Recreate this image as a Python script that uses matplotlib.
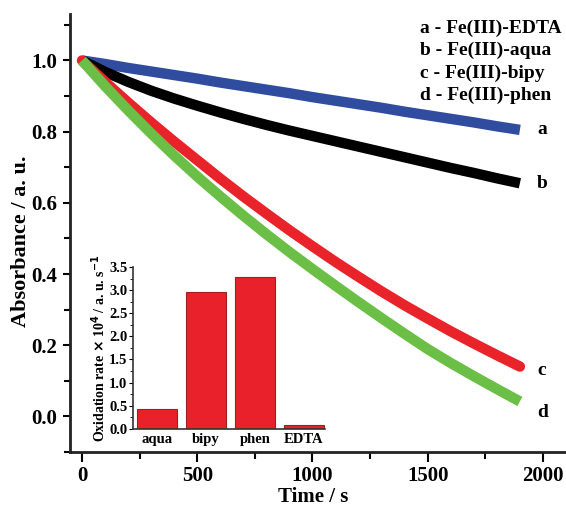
import numpy as np
import matplotlib.pyplot as plt
from matplotlib.ticker import MultipleLocator

plt.rcParams['font.family'] = 'Liberation Serif'
plt.rcParams['font.weight'] = 'bold'

# time points (s)
t = [0, 100, 200, 300, 400, 500, 600, 700, 800, 900, 1000,
     1100, 1200, 1300, 1400, 1500, 1600, 1700, 1800, 1900]
abs_edta = [1.0, 0.990, 0.979, 0.969, 0.959, 0.949, 0.938, 0.928, 0.918, 0.908, 0.897,
            0.887, 0.877, 0.867, 0.856, 0.846, 0.836, 0.826, 0.815, 0.805]
abs_aqua = [1.0, 0.968, 0.940, 0.915, 0.893, 0.873, 0.854, 0.836, 0.819, 0.803, 0.788,
            0.773, 0.758, 0.743, 0.728, 0.713, 0.698, 0.684, 0.669, 0.655]
abs_bipy = [1.0, 0.940, 0.882, 0.826, 0.772, 0.720, 0.668, 0.618, 0.570, 0.523, 0.478,
            0.434, 0.392, 0.351, 0.312, 0.275, 0.239, 0.205, 0.172, 0.140]
abs_phen = [1.0, 0.928, 0.860, 0.795, 0.733, 0.674, 0.618, 0.564, 0.512, 0.462, 0.414,
            0.367, 0.321, 0.276, 0.232, 0.189, 0.150, 0.113, 0.077, 0.042]

legend_lines = ['a - Fe(III)-EDTA', 'b - Fe(III)-aqua', 'c - Fe(III)-bipy', 'd - Fe(III)-phen']

# inset bars
complexes = ['aqua', 'bipy', 'phen', 'EDTA']
rates = [0.42, 2.95, 3.28, 0.08]

fig = plt.figure(figsize=(5.66, 5.07), dpi=100)
ax = fig.add_axes([0.1237, 0.1085, 0.8763, 0.8635])

ax.plot(t, abs_edta, color='#2f4c9f', lw=7.5, solid_capstyle='butt')
ax.plot(t, abs_aqua, color='black', lw=7.5, solid_capstyle='butt')
ax.plot(t, abs_bipy, color='#e8232a', lw=7.5, solid_capstyle='round')
ax.plot(t, abs_phen, color='#6bbf47', lw=7.5, solid_capstyle='butt')

ax.set_xlim(-52, 2100)
ax.set_ylim(-0.1, 1.13)
ax.xaxis.set_major_locator(MultipleLocator(500))
ax.xaxis.set_minor_locator(MultipleLocator(250))
ax.yaxis.set_major_locator(MultipleLocator(0.2))
ax.yaxis.set_minor_locator(MultipleLocator(0.1))
ax.spines['top'].set_visible(False)
ax.spines['right'].set_visible(False)
for s in ['left', 'bottom']:
    ax.spines[s].set_linewidth(2)
    ax.spines[s].set_color('#222222')
ax.tick_params(axis='x', which='major', length=7, width=1.5, labelsize=15, pad=3)
ax.tick_params(axis='x', which='minor', length=5, width=1.5)
ax.tick_params(axis='y', which='major', length=5, width=1.5, labelsize=15, pad=4)
ax.tick_params(axis='y', which='minor', length=4, width=1.5)
ax.yaxis.set_major_formatter(plt.FuncFormatter(lambda v, p: '%.1f' % v))
ax.set_xlabel('Time / s', fontsize=15, fontweight='bold')
ax.xaxis.set_label_coords(0.49, -0.081)
ax.set_ylabel('Absorbance / a. u.', fontsize=16, fontweight='bold')
ax.yaxis.set_label_coords(-0.079, 0.482)

for i, s in enumerate(legend_lines):
    ax.text(0.706, 0.968 - i * 0.051, s, transform=ax.transAxes,
            fontsize=14, fontweight='bold', va='center')

ends = [abs_edta[-1], abs_aqua[-1], abs_bipy[-1], abs_phen[-1]]
for lab, y, dy in zip('abcd', ends, [0, 0, -0.01, -0.03]):
    ax.text(1975, y + dy, lab, fontsize=14, fontweight='bold', va='center')

# inset
ins = fig.add_axes([0.235, 0.154, 0.339, 0.3195])
ins.bar(range(4), rates, width=0.82, color='#e8212a', edgecolor='#a02020', lw=0.8)
ins.set_xlim(-0.49, 3.43)
ins.set_ylim(0, 3.5)
ins.set_xticks(range(4))
ins.set_xticklabels(complexes)
ins.yaxis.set_major_locator(MultipleLocator(0.5))
ins.yaxis.set_minor_locator(MultipleLocator(0.25))
ins.yaxis.set_major_formatter(plt.FuncFormatter(lambda v, p: '%.1f' % v))
ins.spines['top'].set_visible(False)
ins.spines['right'].set_visible(False)
for s in ['left', 'bottom']:
    ins.spines[s].set_linewidth(1.2)
    ins.spines[s].set_color('#333333')
ins.tick_params(axis='y', which='major', length=3, labelsize=10.5, pad=1)
ins.tick_params(axis='y', which='minor', length=2)
ins.tick_params(axis='x', length=0, labelsize=10.5, pad=3)
ins.set_ylabel('Oxidation rate $\\times$ 10$^4$ / a. u. s$^{-1}$', fontsize=10,
               fontweight='bold', labelpad=1)
ins.patch.set_alpha(0)

fig.savefig('out.png', dpi=100)
